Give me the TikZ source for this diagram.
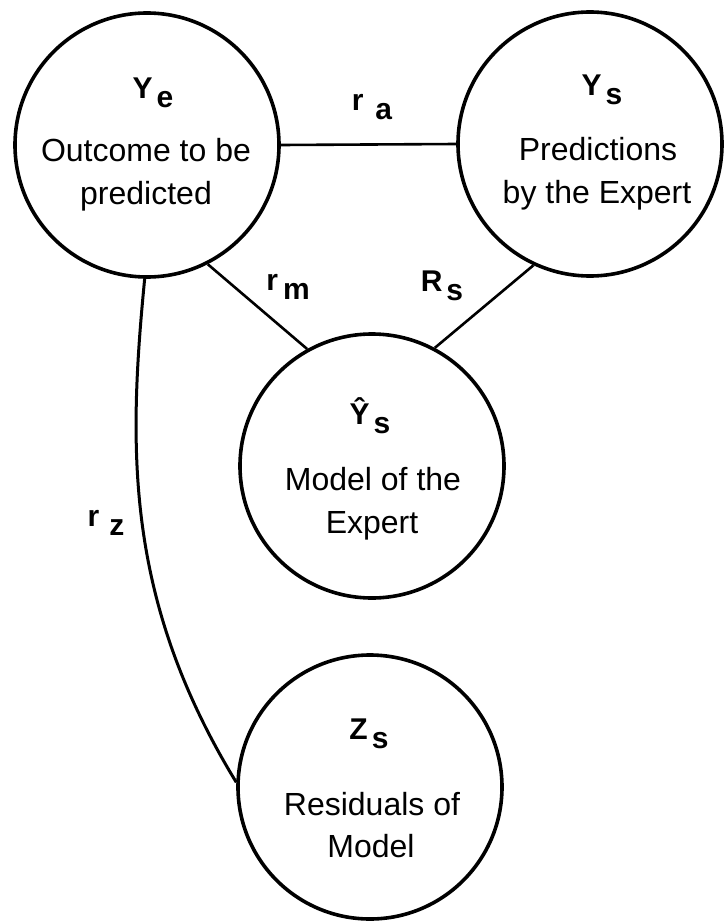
\documentclass[tikz,border=0pt]{standalone}
\usepackage{fontspec}
\setmainfont{Liberation Sans}
\newcommand{\sublab}[3][4pt]{#2\hspace{#1}\raisebox{-9.5pt}{#3}}
\begin{document}
\begin{tikzpicture}[x=1pt,y=-1pt,
  var/.style={draw, circle, minimum size=264pt, inner sep=0pt, line width=3.6pt},
  lab/.style={font=\fontsize{30}{34}\selectfont\bfseries, inner sep=0pt, anchor=base},
  body/.style={font=\fontsize{32}{36}\selectfont, inner sep=0pt, anchor=base},
  link/.style={line width=2.6pt}]
\useasboundingbox (0,0) rectangle (724,921);
% variables
\node[var] (Ye) at (147,145) {};
\node[var] (Ys) at (590,144) {};
\node[var] (Yh) at (372,466) {};
\node[var] (Zs) at (370,787) {};
% connectors
\draw[link] (Ye.east) -- (Ys.west);
\draw[link] (Ye.-63) -- (Yh.119);
\draw[link] (Ys.-115) -- (Yh.62);
\draw[link, line width=3pt] (Ye.-91) .. controls (128,450) and (125,600) .. (Zs.178);
% labels
\node[lab] (Ye-l) at (153,98) {\sublab{Y}{e}};
\node[lab] (Ys-l) at (602,95) {\sublab{Y}{s}};
\node[lab] (Yh-l) at (370,424) {\sublab{\^{Y}}{s}};
\node[lab] (Zs-l) at (369,739) {\sublab{Z}{s}};
\node[lab] (ra) at (372,110) {\sublab[12pt]{r}{a}};
\node[lab] (rm) at (288,290) {\sublab[5pt]{r}{m}};
\node[lab] (Rs) at (442,291) {\sublab{R}{s}};
\node[lab] (rz) at (106,526) {\sublab[10pt]{r}{z}};
% texts
\node[body] (Ye-a) at (146,161) {Outcome to be};
\node[body] (Ye-b) at (146,204) {predicted};
\node[body] (Ys-a) at (598,160) {Predictions};
\node[body] (Ys-b) at (597,203) {by the Expert};
\node[body] (Yh-a) at (373,490) {Model of the};
\node[body] (Yh-b) at (372,533) {Expert};
\node[body] (Zs-a) at (372,815) {Residuals of};
\node[body] (Zs-b) at (371,857) {Model};
\end{tikzpicture}
\end{document}
